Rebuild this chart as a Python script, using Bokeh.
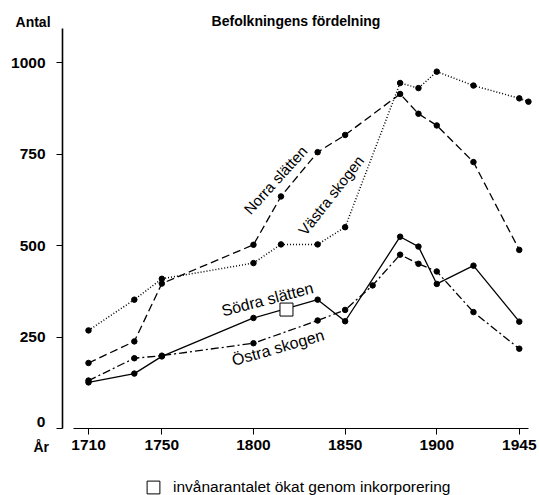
import math
from bokeh.plotting import figure
from bokeh.models import Range1d, FixedTicker, Label, Legend, LegendItem
from bokeh.embed import file_html
from bokeh.resources import INLINE

# ---------------- data ----------------
title_text = "Befolkningens fördelning"
y_title = "Antal"
x_title = "År"
x_ticks = [1710, 1750, 1800, 1850, 1900, 1945]
y_ticks = [0, 250, 500, 750, 1000]

norra_name = "Norra slätten"
norra_years = [1710, 1735, 1750, 1800, 1815, 1835, 1850, 1880, 1890, 1900, 1920, 1945]
norra_values = [179, 238, 396, 502, 634, 755, 802, 914, 860, 828, 728, 488]

vastra_name = "Västra skogen"
vastra_years = [1710, 1735, 1750, 1800, 1815, 1835, 1850, 1880, 1890, 1900, 1920, 1945, 1950]
vastra_values = [268, 352, 409, 452, 503, 503, 550, 944, 930, 975, 937, 902, 893]

sodra_name = "Södra slätten"
sodra_years = [1710, 1735, 1750, 1800, 1835, 1850, 1880, 1890, 1900, 1920, 1945]
sodra_values = [126, 150, 197, 302, 352, 293, 524, 497, 395, 445, 292]

ostra_name = "Östra skogen"
ostra_years = [1710, 1735, 1750, 1800, 1835, 1850, 1865, 1880, 1890, 1900, 1920, 1945]
ostra_values = [131, 192, 199, 233, 295, 324, 391, 475, 450, 429, 318, 218]

inkorp_label = "invånarantalet ökat genom inkorporering"
inkorp_years = [1818]
inkorp_values = [325]

FONT = "Liberation Sans"

# ---------------- figure ----------------
# frame covers the whole canvas; axes are pinned with fixed_location
p = figure(width=539, height=495, output_backend="svg", toolbar_location=None,
           title=None,
           x_range=Range1d(1661.99, 1956.03), y_range=Range1d(-183.06, 1169.4),
           min_border=0, min_border_left=0, min_border_right=0,
           min_border_top=0, min_border_bottom=0)
p.xgrid.visible = False
p.ygrid.visible = False
p.outline_line_color = None
p.background_fill_color = "white"
p.border_fill_color = "white"

# axes
for ax in (p.xaxis[0], p.yaxis[0]):
    ax.major_tick_out = 6
    ax.major_tick_in = 0
    ax.minor_tick_out = 0
    ax.minor_tick_in = 0
    ax.axis_line_color = "black"
    ax.major_tick_line_color = "black"
    ax.major_label_text_color = "black"
    ax.major_label_text_font = FONT
    ax.major_label_text_font_style = "bold"
    ax.major_label_text_font_size = "15.5px"

p.xaxis.ticker = FixedTicker(ticks=x_ticks)
p.xaxis.fixed_location = 0
p.xaxis.axis_line_width = 1.2
p.xaxis.major_label_standoff = 5
p.xaxis.bounds = (1701.8, 1950.0)

p.yaxis.ticker = FixedTicker(ticks=y_ticks)
p.yaxis.fixed_location = 1695.82
p.yaxis.axis_line_width = 1.6
p.yaxis.major_label_standoff = 11
p.yaxis.bounds = (0, 1092.9)
p.yaxis.major_label_overrides = {0: ""}

LW = 1.3
MS = 5.5

p.line(norra_years, norra_values, line_color="black", line_width=LW, line_dash="8 4")
p.scatter(norra_years, norra_values, size=MS, color="black")

p.line(vastra_years, vastra_values, line_color="black", line_width=LW + 0.2, line_dash="1 2")
p.scatter(vastra_years, vastra_values, size=MS, color="black")

p.line(sodra_years, sodra_values, line_color="black", line_width=LW)
p.scatter(sodra_years, sodra_values, size=MS, color="black")

p.line(ostra_years, ostra_values, line_color="black", line_width=LW, line_dash="8 3 2 3")
p.scatter(ostra_years, ostra_values, size=MS, color="black")

inkorp = p.scatter(inkorp_years, inkorp_values, marker="square", size=13,
                   fill_color="white", line_color="black", line_width=1)

# texts
p.add_layout(Label(x=1823.2, y=1112.8, text=title_text, text_align="center", text_baseline="middle",
                   text_font=FONT, text_font_style="bold", text_font_size="14px", text_color="black"))
p.add_layout(Label(x=1670.2, y=1109.3, text=y_title, text_align="left", text_baseline="middle",
                   text_font=FONT, text_font_style="bold", text_font_size="14px", text_color="black"))
p.add_layout(Label(x=1680.0, y=-51.9, text=x_title, text_align="left", text_baseline="middle",
                   text_font=FONT, text_font_style="bold", text_font_size="14px", text_color="black"))
p.add_layout(Label(x=1686.5, y=16.4, text=str(y_ticks[0]), text_align="right", text_baseline="middle",
                   text_font=FONT, text_font_style="bold", text_font_size="15.5px", text_color="black"))

series_labels = [
    (norra_name, 1812.0, 679.0, 48, "15px"),
    (vastra_name, 1842.3, 637.0, 52, "15px"),
    (sodra_name, 1807.6, 353.0, 14.5, "16px"),
    (ostra_name, 1813.4, 221.0, 16, "16px"),
]
for txt, lx, ly, ang, fs in series_labels:
    p.add_layout(Label(x=lx, y=ly, text=txt, angle=math.radians(ang), text_align="center",
                       text_baseline="middle", text_font=FONT, text_font_size=fs,
                       text_color="black"))

legend = Legend(items=[LegendItem(label=inkorp_label, renderers=[inkorp])],
                location=(137, -7.5), glyph_width=32, glyph_height=32, label_standoff=4,
                padding=0, margin=0, spacing=0, border_line_color=None,
                background_fill_alpha=0, label_text_font=FONT, label_text_font_size="15.5px",
                label_text_color="black")
p.add_layout(legend, "center")

open("out.html", "w").write(file_html(p, INLINE))
